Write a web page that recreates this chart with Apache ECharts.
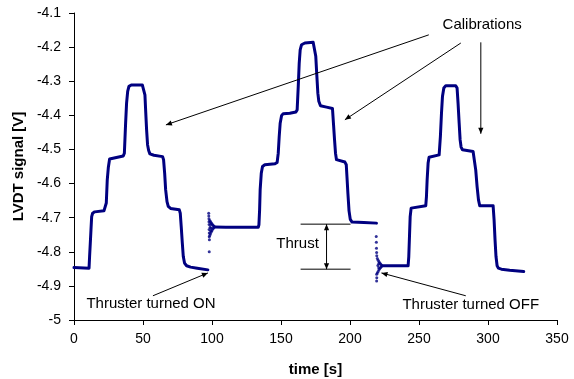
<!DOCTYPE html>
<html>
<head>
<meta charset="utf-8">
<script src="https://cdn.jsdelivr.net/npm/echarts@6/dist/echarts.min.js"></script>
<style>
  html, body { margin: 0; padding: 0; background: #fff; }
  #chart { width: 574px; height: 379px; }
</style>
</head>
<body>
<div id="chart"></div>
<script>
// Axis ticks
const timeTicks = [0, 50, 100, 150, 200, 250, 300, 350];
const voltTicks = [-5, -4.9, -4.8, -4.7, -4.6, -4.5, -4.4, -4.3, -4.2, -4.1];

// First calibration, thruster off (0 - 97 s)
const run1Time = [0, 10.9, 11.3, 11.8, 12.3, 12.8, 13.5, 15.0, 21.7, 22.9, 23.4, 24.1, 24.9, 25.8, 27.0,
  35.7, 36.5, 36.9, 37.4, 38.1, 38.9, 39.8, 41.5, 49.5, 50.7, 51.4, 51.9, 52.6, 53.3, 54.1, 55.0,
  57.9, 64.2, 64.9, 65.7, 66.4, 67.4, 68.3, 70.0, 76.3, 77.0, 77.7, 78.5, 79.2, 80.1, 81.6, 84.5, 89.3, 97.0];
const run1Volts = [-4.846, -4.848, -4.814, -4.775, -4.736, -4.697, -4.687, -4.683, -4.680, -4.675, -4.657, -4.589, -4.552, -4.528, -4.523,
  -4.519, -4.511, -4.472, -4.423, -4.364, -4.330, -4.315, -4.311, -4.311, -4.315, -4.340, -4.384, -4.442, -4.486, -4.503, -4.513,
  -4.517, -4.521, -4.530, -4.570, -4.618, -4.653, -4.667, -4.673, -4.677, -4.687, -4.726, -4.775, -4.814, -4.833, -4.841, -4.845, -4.848, -4.853];

// Second calibration, thruster on (102 - 219 s)
const run2Time = [101.8, 110, 125, 133.5, 134.0, 134.5, 134.9, 135.7, 136.6, 138.3, 145.6, 147.2, 148.0, 148.7, 149.4, 150.4, 151.6,
  156.4, 160.8, 161.7, 162.5, 163.2, 163.9, 164.9, 167.3, 173.3, 174.5, 175.2, 176.0, 176.7, 177.4, 178.6, 183.0, 187.3,
  188.0, 188.8, 189.5, 190.2, 191.4, 196.3, 197.3, 197.8, 198.5, 199.3, 200.2, 201.5, 210, 219.2];
const run2Volts = [-4.727, -4.728, -4.728, -4.728, -4.721, -4.677, -4.618, -4.570, -4.550, -4.545, -4.542, -4.538, -4.511, -4.462, -4.423, -4.401, -4.395,
  -4.394, -4.390, -4.384, -4.315, -4.247, -4.208, -4.193, -4.188, -4.186, -4.190, -4.227, -4.286, -4.335, -4.359, -4.372, -4.376, -4.380,
  -4.423, -4.472, -4.511, -4.530, -4.535, -4.537, -4.545, -4.580, -4.630, -4.680, -4.705, -4.713, -4.714, -4.716];

// Third calibration, thruster off again (223 - 326 s)
const run3Time = [223.3, 242.1, 242.6, 243.1, 243.6, 244.3, 245.3, 254.9, 255.4, 255.9, 256.6, 257.3, 258.3, 264.6, 265.1, 265.5,
  266.3, 267.0, 268.0, 269.4, 276.6, 277.6, 278.3, 279.1, 279.8, 280.5, 281.5, 289.2, 290.4, 291.1, 292.1, 293.1, 294.0,
  303.7, 304.4, 305.1, 305.8, 306.6, 307.5, 309.7, 315.7, 325.9];
const run3Volts = [-4.841, -4.841, -4.814, -4.755, -4.697, -4.672, -4.667, -4.665, -4.638, -4.589, -4.540, -4.523, -4.519, -4.516, -4.513, -4.462,
  -4.393, -4.345, -4.320, -4.313, -4.313, -4.320, -4.364, -4.423, -4.472, -4.493, -4.501, -4.506, -4.511, -4.560, -4.609, -4.648, -4.665,
  -4.665, -4.706, -4.765, -4.814, -4.841, -4.848, -4.851, -4.854, -4.858];

// Ringing samples right after switching the thruster on
const onBurstTime = [97.6, 97.7, 97.8, 97.8, 97.9, 97.9, 98.0, 98.0, 98.1, 98.0,
  98.4, 98.9, 99.4, 99.9, 100.4, 100.9, 101.5,
  98.4, 98.9, 99.4, 99.9, 100.4, 100.9, 101.5,
  98.6, 99.2, 99.0, 99.0];
const onBurstVolts = [-4.687, -4.695, -4.703, -4.712, -4.720, -4.735, -4.745, -4.756, -4.765, -4.800,
  -4.708, -4.712, -4.715, -4.718, -4.721, -4.723, -4.725,
  -4.752, -4.747, -4.742, -4.738, -4.734, -4.731, -4.728,
  -4.728, -4.730, -4.720, -4.738];

// Ringing samples right after switching the thruster off
const offBurstTime = [219.0, 219.1, 219.2, 219.3, 219.4, 219.3, 219.4, 219.3,
  219.8, 220.4, 221.0, 221.6, 222.2, 222.8,
  219.8, 220.4, 221.0, 221.6, 222.2, 222.8,
  220.2, 220.8, 220.8];
const offBurstVolts = [-4.755, -4.772, -4.790, -4.802, -4.812, -4.866, -4.876, -4.886,
  -4.820, -4.825, -4.829, -4.833, -4.836, -4.839,
  -4.862, -4.858, -4.853, -4.849, -4.846, -4.843,
  -4.840, -4.835, -4.847];

const zip = (xs, ys) => xs.map((x, i) => [x, ys[i]]);

const INK = '#000080';
const FONT = '"Liberation Sans", Arial, Helvetica, sans-serif';

const chart = echarts.init(document.getElementById('chart'), null, { renderer: 'canvas' });

const traceLine = (name, data) => ({
  name, type: 'line', data, showSymbol: false, symbol: 'none',
  lineStyle: { color: INK, width: 3, join: 'round', cap: 'round' },
  z: 3
});
const burstDots = (name, data) => ({
  name, type: 'scatter', data, symbol: 'circle', symbolSize: 3,
  itemStyle: { color: INK }, z: 3
});

chart.setOption({
  animation: false,
  backgroundColor: '#fff',
  textStyle: { fontFamily: FONT },
  grid: { left: 74, right: 17, top: 13, bottom: 59, containLabel: false, outerBoundsMode: 'none' },
  xAxis: {
    type: 'value',
    min: timeTicks[0], max: timeTicks[timeTicks.length - 1], interval: timeTicks[1] - timeTicks[0],
    name: 'time [s]', nameLocation: 'middle', nameGap: 42,
    nameTextStyle: { fontFamily: FONT, fontSize: 15, fontWeight: 'bold', color: '#000' },
    axisLine: { show: true, lineStyle: { color: '#000', width: 1 } },
    axisTick: { show: true, inside: false, length: 5, lineStyle: { color: '#000' } },
    axisLabel: { fontFamily: FONT, fontSize: 14, color: '#000', margin: 12 },
    splitLine: { show: false }
  },
  yAxis: {
    type: 'value',
    min: voltTicks[0], max: voltTicks[voltTicks.length - 1], interval: 0.1,
    name: 'LVDT signal [V]', nameLocation: 'middle', nameGap: 48,
    nameTextStyle: { fontFamily: FONT, fontSize: 15, fontWeight: 'bold', color: '#000' },
    axisLine: { show: true, lineStyle: { color: '#000', width: 1 } },
    axisTick: { show: true, inside: false, length: 5, lineStyle: { color: '#000' } },
    axisLabel: { fontFamily: FONT, fontSize: 14, color: '#000', margin: 13,
      formatter: v => String(Number(v.toFixed(1))) },
    splitLine: { show: false }
  },
  series: [
    traceLine('run1', zip(run1Time, run1Volts)),
    traceLine('run2', zip(run2Time, run2Volts)),
    traceLine('run3', zip(run3Time, run3Volts)),
    burstDots('thruster on', zip(onBurstTime, onBurstVolts)),
    burstDots('thruster off', zip(offBurstTime, offBurstVolts))
  ]
});

// Annotations, anchored in data coordinates
const toPx = p => chart.convertToPixel({ gridIndex: 0 }, p);

function arrowHead(tip, from, len, half) {
  const dx = tip[0] - from[0], dy = tip[1] - from[1];
  const d = Math.hypot(dx, dy) || 1;
  const ux = dx / d, uy = dy / d;
  const bx = tip[0] - ux * len, by = tip[1] - uy * len;
  return {
    type: 'polygon', z: 10,
    shape: { points: [tip, [bx - uy * half, by + ux * half], [bx + uy * half, by - ux * half]] },
    style: { fill: '#000' }
  };
}

function arrow(fromData, toData, both) {
  const a = toPx(fromData), b = toPx(toData);
  const els = [{
    type: 'line', z: 10,
    shape: { x1: a[0], y1: a[1], x2: b[0], y2: b[1] },
    style: { stroke: '#000', lineWidth: 1 }
  }, arrowHead(b, a, 6, 2.6)];
  if (both) els.push(arrowHead(a, b, 6, 2.6));
  return els;
}

function segment(fromData, toData) {
  const a = toPx(fromData), b = toPx(toData);
  return {
    type: 'line', z: 10,
    shape: { x1: a[0], y1: a[1], x2: b[0], y2: b[1] },
    style: { stroke: '#000', lineWidth: 1 }
  };
}

function label(text, atData) {
  const p = toPx(atData);
  return {
    type: 'text', z: 10, x: p[0], y: p[1],
    style: { text, fill: '#000', fontFamily: FONT, fontSize: 15, align: 'center', verticalAlign: 'middle' }
  };
}

const graphics = [].concat(
  label('Calibrations', [295.8, -4.134]),
  arrow([257.1, -4.164], [66.6, -4.428]),
  arrow([280.3, -4.188], [196.3, -4.413]),
  arrow([294.8, -4.186], [294.8, -4.454]),
  label('Thruster turned ON', [55.8, -4.954]),
  arrow([57.2, -4.929], [97.0, -4.862]),
  label('Thruster turned OFF', [287.5, -4.957]),
  arrow([283.9, -4.929], [222.8, -4.862]),
  segment([164.2, -4.719], [200.4, -4.719]),
  segment([164.2, -4.851], [200.4, -4.851]),
  arrow([183.0, -4.719], [183.0, -4.851], true),
  label('Thrust', [162.0, -4.776])
);

chart.setOption({ graphic: graphics });
</script>
</body>
</html>
